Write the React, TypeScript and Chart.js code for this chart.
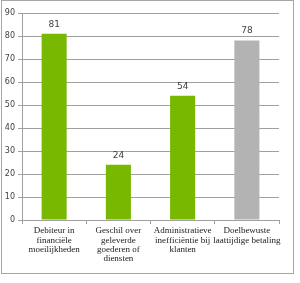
import React, { useEffect, useRef } from "react";
import { Chart, registerables } from "chart.js";

Chart.register(...registerables);

const categories: string[][] = [
  ["Debiteur in", "financiële", "moeilijkheden"],
  ["Geschil over", "geleverde", "goederen of", "diensten"],
  ["Administratieve", "inefficiëntie bij", "klanten"],
  ["Doelbewuste", "laattijdige betaling"],
];
const values = [81, 24, 54, 78];
const barColors = ["#78b800", "#78b800", "#78b800", "#b3b3b3"];
const yMin = 0;
const yMax = 90;
const yStep = 10;

const valueLabels = {
  id: "valueLabels",
  afterDatasetsDraw(chart: any) {
    const ctx = chart.ctx;
    const meta = chart.getDatasetMeta(0);
    ctx.save();
    ctx.font = "9px 'DejaVu Sans', sans-serif";
    ctx.fillStyle = "#404040";
    ctx.textAlign = "center";
    ctx.textBaseline = "bottom";
    meta.data.forEach((el: any, i: number) => {
      ctx.fillText(String(values[i]), el.x, el.y - 5);
    });
    ctx.restore();
  },
};

export default function App() {
  const ref = useRef<HTMLCanvasElement>(null);
  useEffect(() => {
    document.body.style.margin = "0";
    const chart = new Chart(ref.current!, {
      type: "bar",
      data: {
        labels: categories,
        datasets: [
          {
            data: values,
            backgroundColor: barColors,
            categoryPercentage: 1,
            barPercentage: 0.39,
          },
        ],
      },
      options: {
        animation: false,
        responsive: false,
        maintainAspectRatio: false,
        layout: { padding: { top: 13, right: 21, left: 0, bottom: 0 } },
        plugins: { legend: { display: false }, tooltip: { enabled: false } },
        scales: {
          x: {
            offset: true,
            grid: {
              offset: true,
              drawOnChartArea: false,
              drawTicks: true,
              tickLength: 4,
              color: "#a0a0a0",
            },
            border: { color: "#a0a0a0" },
            ticks: {
              color: "#202020",
              font: { family: "'Liberation Serif', serif", size: 9, lineHeight: 1.05 },
              maxRotation: 0,
              autoSkip: false,
              padding: 2,
            },
            afterFit: (s: any) => {
              s.height = 63;
            },
          },
          y: {
            min: yMin,
            max: yMax,
            ticks: {
              stepSize: yStep,
              color: "#404040",
              font: { family: "'DejaVu Sans', sans-serif", size: 8 },
              padding: 3,
            },
            grid: { color: "#a0a0a0", tickLength: 4 },
            border: { color: "#a0a0a0" },
            afterFit: (s: any) => {
              s.width = 22;
            },
          },
        },
      },
      plugins: [valueLabels],
    });
    return () => chart.destroy();
  }, []);
  return (
    <div style={{ position: "relative", width: 300, height: 283, background: "#fff" }}>
      <div
        style={{
          position: "absolute",
          left: 1,
          top: 0,
          width: 291,
          height: 272,
          border: "1px solid #a6a6a6",
          boxSizing: "content-box",
        }}
      />
      <canvas ref={ref} width={300} height={283} style={{ position: "absolute", left: 0, top: 0 }} />
    </div>
  );
}
